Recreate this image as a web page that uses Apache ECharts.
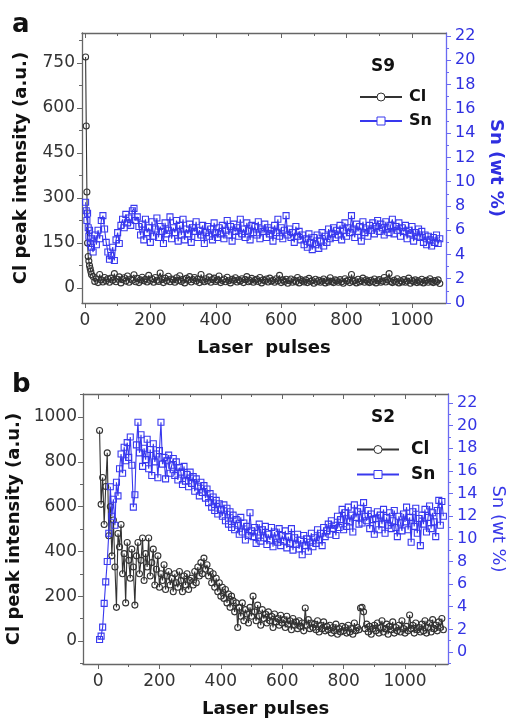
<!DOCTYPE html>
<html><head><meta charset="utf-8">
<script src="https://cdn.jsdelivr.net/npm/echarts@6/dist/echarts.min.js"></script>
<style>html,body{margin:0;padding:0;background:#fff}#c{width:506px;height:718px}</style>
</head><body><div id="c"></div>
<script>
// ---------- Panel a (S9) ----------
const pulsesHeadA = [2, 4, 6, 8, 10, 12, 14, 16, 18, 20];
const clHeadA = [770, 540, 320, 150, 105, 90, 75, 65, 55, 45];
const snHeadA = [8.3, 7.6, 6.8, 7.4, 6.2, 5.5, 6.0, 4.9, 5.3, 4.6];
// pulses 25..1085, every 5 pulses
const clA = [
 38,22,30,18,45,27,20,35,24,31, 19,33,26,48,21,29,37,17,28,34,
 23,40,19,30,26,44,21,32,18,27, 36,24,29,20,42,25,31,19,35,26,
 22,50,28,18,33,24,39,21,30,27, 19,34,25,41,22,29,17,32,26,38,
 20,28,35,23,30,18,45,26,21,31, 24,37,19,28,33,22,27,40,18,25,
 30,21,36,24,17,29,26,34,20,27, 23,31,18,28,38,21,25,32,19,26,
 29,22,35,17,27,24,30,20,33,23, 26,19,31,24,42,18,27,22,29,16,
 24,30,19,26,21,35,17,28,23,20, 27,18,32,22,25,16,29,21,26,19,
 23,30,17,25,20,34,22,18,27,24, 19,28,21,16,31,23,26,18,45,22,
 25,17,29,20,24,33,19,27,22,18, 26,21,30,17,24,28,19,23,35,20,
 27,48,22,18,26,21,31,17,24,20, 28,19,23,33,16,25,21,27,18,24,
 20,29,17,23,26,19,31,22,18,25, 21,27,15];
const snA = [
 4.2,5.6,4.8,6.0,5.3,6.8,7.2,6.1,5.0,4.2, 3.6,3.9,4.6,3.5,5.2,5.8,4.9,6.4,6.9,6.2,
 7.3,6.6,7.0,6.4,7.6,7.8,6.8,7.1,6.3,5.6, 6.5,5.2,6.9,5.8,6.2,5.0,6.7,5.5,6.1,7.0,
 5.4,6.3,5.9,4.9,6.6,5.7,6.0,7.1,5.3,6.2, 5.8,6.8,5.1,6.4,5.6,6.9,5.2,6.1,5.7,6.5,
 5.0,6.2,5.9,6.7,5.4,6.0,5.6,6.4,4.9,5.8, 6.3,5.5,6.1,5.2,6.6,5.8,5.4,6.2,5.7,6.4,
 5.3,6.0,6.8,5.6,6.3,5.1,6.5,5.9,6.2,5.5, 6.9,5.7,6.1,5.4,6.6,6.0,5.2,6.4,5.8,6.3,
 5.6,6.7,5.3,6.1,5.9,6.5,5.4,6.2,5.7,6.0, 5.1,6.4,5.8,6.9,5.5,6.2,5.3,6.0,7.2,5.6,
 6.1,5.4,5.8,5.0,6.3,5.5,5.9,5.2,5.6,4.8, 5.3,4.6,5.7,5.0,4.4,5.4,4.8,5.6,4.5,5.1,
 5.8,4.7,5.5,5.0,6.1,5.3,5.7,6.2,5.4,6.0, 5.6,6.4,5.2,6.0,6.6,5.5,6.2,5.8,7.2,6.1,
 5.4,6.5,5.9,6.3,5.1,6.7,5.8,6.1,5.5,6.4, 6.0,6.6,5.7,6.3,6.8,5.9,6.5,6.2,5.6,6.7,
 6.1,5.8,6.4,6.9,5.7,6.3,6.0,6.6,5.5,6.2, 5.9,6.4,5.3,6.0,5.7,6.3,5.1,5.8,5.5,6.1,
 5.4,5.9,5.0,5.6,4.8,5.5,5.2,4.7,5.4,5.0, 5.6,4.9,5.3];

// ---------- Panel b (S2) ----------
// pulses 5..1125, every 5 pulses
const clB = [
 940,610,730,520,690,840,470,600,380,540, 330,150,480,420,520,300,390,170,440,360,
 280,410,330,160,380,440,300,360,460,270, 390,330,460,290,350,410,250,320,380,240,
 300,270,340,230,290,310,250,280,220,300, 260,240,310,270,220,290,250,300,230,270,
 280,250,310,260,330,290,350,300,370,320, 340,290,310,260,300,240,280,220,260,200,
 240,190,230,170,210,150,200,180,130,170, 60,150,110,170,90,140,120,80,150,110,
 200,130,90,160,110,70,140,100,120,80, 130,90,110,60,120,85,100,70,115,80,
 95,60,110,75,90,50,100,70,85,55, 90,65,80,45,147,70,95,55,80,60,
 75,50,90,40,70,55,85,45,65,50, 70,35,60,45,75,30,55,40,65,45,
 60,35,70,40,55,30,80,45,60,50, 147,150,130,55,75,40,65,30,55,70,
 45,80,35,60,90,40,55,75,30,65, 50,85,35,60,45,70,40,90,55,35,
 65,45,116,55,70,35,80,50,60,40, 75,45,90,35,60,80,40,95,55,70,
 45,85,60,100,50];
const snB = [
 1.1,1.4,2.2,4.3,6.2,8.0,10.5,14.6,12.0,13.5, 11.2,15.0,13.8,16.2,17.5,15.8,18.1,16.9,18.5,17.2,
 19.0,16.5,12.8,13.9,18.3,20.3,17.6,19.2,16.4,18.0, 17.0,18.8,16.2,17.9,15.6,18.4,16.8,17.5,15.4,17.8,
 20.3,16.6,17.2,15.3,16.9,17.4,15.8,16.5,17.1,15.6, 16.8,15.2,16.3,15.9,14.8,16.4,15.1,15.7,14.6,15.9,
 14.9,15.5,14.2,15.3,14.6,13.8,15.0,14.1,14.7,13.6, 14.4,13.2,14.0,12.8,13.7,12.5,13.4,12.2,13.1,12.6,
 12.0,13.0,11.6,12.7,11.3,12.4,11.0,12.1,10.8,11.7, 11.2,10.4,11.9,10.6,11.4,9.9,11.1,10.3,12.3,10.7,
 10.2,11.0,9.6,10.6,11.3,9.8,10.8,10.1,11.1,9.5, 10.4,9.9,11.0,9.3,10.6,10.0,9.7,10.9,9.4,10.3,
 9.8,10.7,9.2,10.2,9.6,10.9,9.0,10.1,9.5,10.4, 9.1,9.9,8.6,10.3,9.4,10.0,8.9,9.7,10.5,9.3,
 10.1,9.6,10.8,9.9,10.5,9.4,11.0,10.2,10.7,11.3, 10.4,11.6,10.9,11.2,10.3,12.0,11.0,11.7,12.6,10.8,
 12.3,11.1,12.8,11.5,12.1,10.6,13.0,11.9,12.4,11.3, 12.7,11.4,13.2,12.0,11.6,12.5,10.9,12.2,11.7,10.4,
 11.8,12.4,10.8,12.1,11.3,12.6,10.5,11.9,11.2,12.3, 10.9,11.6,12.5,11.0,10.2,12.0,11.4,10.7,12.2,11.5,
 12.8,10.8,11.9,9.7,12.4,11.1,12.7,10.5,11.8,9.4, 12.1,11.3,12.6,10.6,11.9,12.9,10.9,12.3,11.5,10.2,
 12.5,13.4,11.2,13.3,12.0];

// ---------- tick values ----------
const xMajor = [0, 200, 400, 600, 800, 1000];
const xMinorA = [100, 300, 500, 700, 900];
const xMinorB = [100, 300, 500, 700, 900, 1100];
const clTicksA = [0, 150, 300, 450, 600, 750];
const clMinorA = [75, 225, 375, 525, 675, 825];
const clTicksB = [0, 200, 400, 600, 800, 1000];
const clMinorB = [-100, 100, 300, 500, 700, 900, 1100];
const snTicks = [0, 2, 4, 6, 8, 10, 12, 14, 16, 18, 20, 22];
const snMinor = [1, 3, 5, 7, 9, 11, 13, 15, 17, 19, 21];
const snMinorB = [-1, 1, 3, 5, 7, 9, 11, 13, 15, 17, 19, 21];

const pulsesA = pulsesHeadA.concat(clA.map((_, i) => 25 + 5 * i));
const clAllA = clHeadA.concat(clA);
const snAllA = snHeadA.concat(snA);
const pulsesB = clB.map((_, i) => 5 + 5 * i);

const FONT = 'DejaVu Sans';
const GRAY = '#666';
const BLUE = '#3838ee';
const BLUE_AX = '#6a6af2';
const CL_COL = '#333';

function zip(xs, ys) { return xs.map((x, i) => [x, ys[i]]); }

function axis(kind, o) {
  const isMinor = !!o.minor;
  const a = {
    type: 'value', gridIndex: o.grid, position: o.pos, min: o.min, max: o.max,
    axisLine: { show: !isMinor, onZero: false, lineStyle: { color: o.color || GRAY, width: 1.3 } },
    axisTick: { show: true, customValues: o.ticks, length: isMinor ? 3 : 5, inside: !!o.inside,
                lineStyle: { color: o.color || GRAY, width: 1 } },
    axisLabel: o.labels ? { show: true, customValues: o.ticks, fontFamily: FONT, fontSize: o.fs || 17,
                color: o.labelColor || '#333', margin: o.margin || 8,
                formatter: function (v) { return String(v); } } : { show: false },
    splitLine: { show: false }, minorTick: { show: false }
  };
  if (o.name) {
    a.name = o.name; a.nameLocation = 'middle'; a.nameGap = o.nameGap;
    if (o.nameRotate !== undefined) a.nameRotate = o.nameRotate;
    a.nameTextStyle = { fontFamily: FONT, fontWeight: o.nameWeight || 'bold', fontSize: 18, color: o.nameColor || '#111' };
  }
  return a;
}

const xAxes = [
  axis('x', { grid: 0, pos: 'bottom', min: -9, max: 1104, ticks: xMajor, labels: true, margin: 9, name: 'Laser  pulses', nameGap: 36 }),
  axis('x', { grid: 0, pos: 'bottom', min: -9, max: 1104, ticks: xMinorA, minor: true }),
  axis('x', { grid: 0, pos: 'top', min: -9, max: 1104, ticks: xMajor, inside: true }),
  axis('x', { grid: 0, pos: 'top', min: -9, max: 1104, ticks: xMinorA, inside: true, minor: true }),
  axis('x', { grid: 1, pos: 'bottom', min: -49, max: 1140, ticks: xMajor, labels: true, margin: 9, name: 'Laser pulses', nameGap: 36 }),
  axis('x', { grid: 1, pos: 'bottom', min: -49, max: 1140, ticks: xMinorB, minor: true }),
  axis('x', { grid: 1, pos: 'top', min: -49, max: 1140, ticks: xMajor, inside: true }),
  axis('x', { grid: 1, pos: 'top', min: -49, max: 1140, ticks: xMinorB, inside: true, minor: true })
];
const yAxes = [
  axis('y', { grid: 0, pos: 'left', min: -50, max: 850, ticks: clTicksA, labels: true, margin: 7, name: 'Cl peak intensity (a.u.)', nameGap: 52 }),
  axis('y', { grid: 0, pos: 'left', min: -50, max: 850, ticks: clMinorA, minor: true }),
  axis('y', { grid: 0, pos: 'right', min: 0, max: 22.25, ticks: snTicks, labels: true, fs: 16, margin: 9, color: BLUE_AX, labelColor: '#2f2fe0',
              name: 'Sn (wt %)', nameGap: 36, nameRotate: -90, nameColor: '#2f2fe0' }),
  axis('y', { grid: 0, pos: 'right', min: 0, max: 22.25, ticks: snMinor, minor: true, color: BLUE_AX }),
  axis('y', { grid: 1, pos: 'left', min: -103, max: 1103, ticks: clTicksB, labels: true, margin: 6, name: 'Cl peak intensity (a.u.)', nameGap: 52 }),
  axis('y', { grid: 1, pos: 'left', min: -103, max: 1103, ticks: clMinorB, minor: true }),
  axis('y', { grid: 1, pos: 'right', min: -1.06, max: 22.8, ticks: snTicks, labels: true, fs: 16, margin: 9, color: BLUE_AX, labelColor: '#3434e4',
              name: 'Sn (wt %)', nameGap: 36, nameRotate: -90, nameWeight: 'normal', nameColor: '#3a3ae8' }),
  axis('y', { grid: 1, pos: 'right', min: -1.06, max: 22.8, ticks: snMinorB, minor: true, color: BLUE_AX })
];

function lineSeries(name, xi, yi, data, col, sym, size) {
  return {
    type: 'line', name: name, xAxisIndex: xi, yAxisIndex: yi, data: data,
    symbol: sym, symbolSize: size, showSymbol: true, showAllSymbol: true,
    lineStyle: { color: col, width: 1.1 },
    itemStyle: { color: 'rgba(255,255,255,0)', borderColor: col, borderWidth: 1.1 },
    emphasis: { disabled: true }, silent: true, z: name === 'Sn' ? 3 : 2
  };
}

const legendBase = (top, left, fs, pad) => ({
  orient: 'vertical', top: top, left: left, padding: 0, itemWidth: 42, itemHeight: 10, itemGap: 8,
  selectedMode: false,
  textStyle: { fontFamily: FONT, fontWeight: 'bold', fontSize: fs, color: '#111', padding: [0, 0, 0, pad] },
  data: [
    { name: 'Cl', itemStyle: { color: '#fff', borderColor: CL_COL, borderWidth: 1 } },
    { name: 'Sn', itemStyle: { color: '#fff', borderColor: BLUE, borderWidth: 1 } }
  ]
});

const option = {
  animation: false,
  backgroundColor: '#fff',
  grid: [
    { left: 82, top: 33, width: 364, height: 270, outerBoundsMode: 'none' },
    { left: 83, top: 394, width: 365, height: 270, outerBoundsMode: 'none' }
  ],
  xAxis: xAxes,
  yAxis: yAxes,
  legend: [legendBase(89, 359, 16, 2), legendBase(441, 356, 17, 7)],
  graphic: [
    { type: 'text', x: 12, y: 25, style: { text: 'a', font: 'bold 26px "DejaVu Sans"', fill: '#111', verticalAlign: 'middle' } },
    { type: 'text', x: 12, y: 385, style: { text: 'b', font: 'bold 26px "DejaVu Sans"', fill: '#111', verticalAlign: 'middle' } },
    { type: 'text', x: 383, y: 67, style: { text: 'S9', font: 'bold 17px "DejaVu Sans"', fill: '#111', align: 'center', verticalAlign: 'middle' } },
    { type: 'text', x: 383, y: 418, style: { text: 'S2', font: 'bold 17px "DejaVu Sans"', fill: '#111', align: 'center', verticalAlign: 'middle' } }
  ],
  series: [
    lineSeries('Cl', 0, 0, zip(pulsesA, clAllA), CL_COL, 'circle', 6),
    lineSeries('Sn', 0, 2, zip(pulsesA, snAllA), BLUE, 'rect', 6),
    lineSeries('Cl', 4, 4, zip(pulsesB, clB), CL_COL, 'circle', 6),
    lineSeries('Sn', 4, 6, zip(pulsesB, snB), BLUE, 'rect', 6)
  ]
};

const chart = echarts.init(document.getElementById('c'), null, { renderer: 'canvas' });
chart.setOption(option);
</script>
</body></html>
